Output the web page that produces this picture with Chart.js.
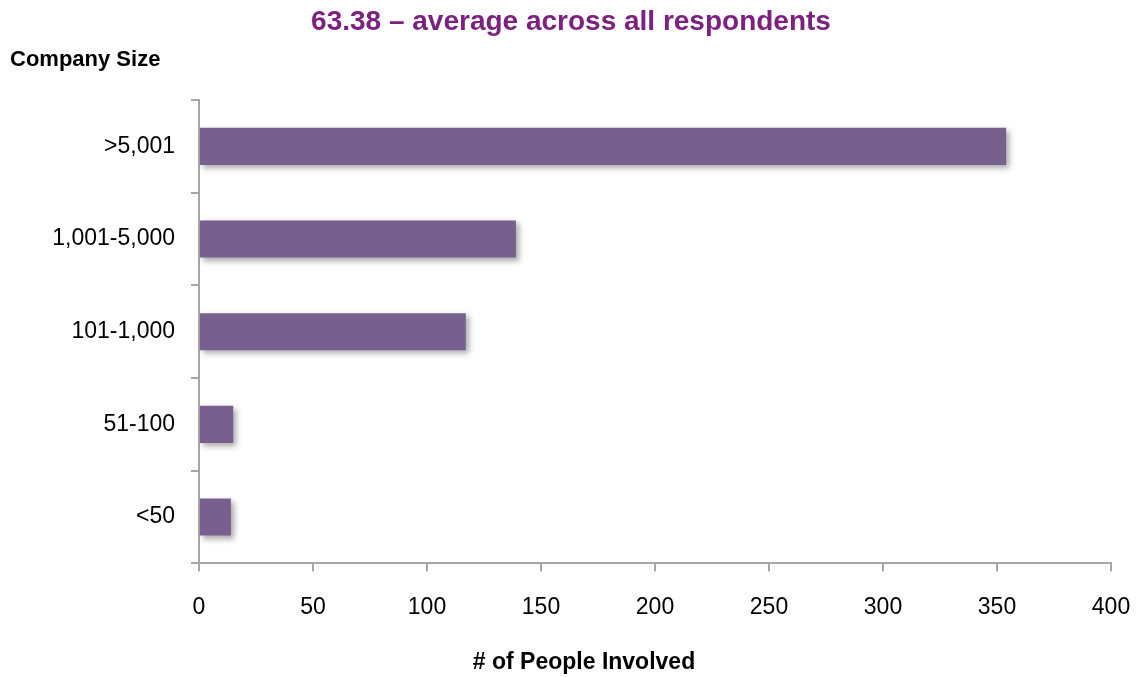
<!DOCTYPE html>
<html>
<head>
<meta charset="utf-8">
<script src="https://cdn.jsdelivr.net/npm/chart.js@4/dist/chart.umd.min.js"></script>
<style>
  html, body { margin: 0; padding: 0; background: #fff; }
  #wrap { width: 1136px; height: 677px; }
</style>
</head>
<body>
<div id="wrap"><canvas id="sizeChart"></canvas></div>
<script>
// Company size buckets, largest first
const companySizes = ['>5,001', '1,001-5,000', '101-1,000', '51-100', '<50'];
const peopleInvolved = [354, 139, 117, 15, 14];
const xTicks = [0, 50, 100, 150, 200, 250, 300, 350, 400];

const headline = '63.38 \u2013 average across all respondents';
const yTitle = 'Company Size';
const xTitle = '# of People Involved';

const FONT = "'Liberation Sans', Arial, sans-serif";
const AXIS_GREY = '#a6a6a6';

// soft drop shadow under the bars
const barShadow = {
  id: 'barShadow',
  beforeDatasetsDraw(chart) {
    const c = chart.ctx;
    c.save();
    c.shadowColor = 'rgba(0,0,0,0.35)';
    c.shadowBlur = 6;
    c.shadowOffsetX = 3;
    c.shadowOffsetY = 3;
  },
  afterDatasetsDraw(chart) {
    chart.ctx.restore();
  }
};

// x axis caption, centred under the whole figure
const xCaption = {
  id: 'xCaption',
  afterDraw(chart) {
    const c = chart.ctx;
    c.save();
    c.font = 'bold 23px ' + FONT;
    c.fillStyle = '#000';
    c.textAlign = 'center';
    c.textBaseline = 'middle';
    c.fillText(xTitle, 584, 663);
    c.restore();
  }
};

const ctx = document.getElementById('sizeChart').getContext('2d');
new Chart(ctx, {
  type: 'bar',
  data: {
    labels: companySizes,
    datasets: [{
      data: peopleInvolved,
      backgroundColor: '#77608e',
      borderWidth: 0,
      barPercentage: 0.8,
      categoryPercentage: 0.5
    }]
  },
  options: {
    indexAxis: 'y',
    responsive: true,
    maintainAspectRatio: false,
    animation: false,
    layout: { padding: { left: 10, right: 4, top: 5, bottom: 34 } },
    plugins: {
      legend: { display: false },
      tooltip: { enabled: false },
      title: {
        display: true,
        text: headline,
        color: '#7d2181',
        font: { family: FONT, size: 28, weight: 'bold' },
        padding: { top: 0, bottom: 8 }
      },
      subtitle: {
        display: true,
        text: yTitle,
        align: 'start',
        color: '#000',
        font: { family: FONT, size: 22, weight: 'bold' },
        padding: { top: 0, bottom: 27 }
      }
    },
    scales: {
      x: {
        min: 0,
        max: 400,
        afterBuildTicks(axis) {
          axis.ticks = xTicks.map(v => ({ value: v }));
        },
        afterFit(axis) {
          // leave room for the "400" label only
          axis.paddingRight = 25;
        },
        grid: { drawOnChartArea: false, drawTicks: true, tickLength: 8, color: AXIS_GREY, lineWidth: 2 },
        border: { color: AXIS_GREY, width: 2 },
        ticks: { color: '#000', font: { family: FONT, size: 23 }, padding: 22, maxRotation: 0 }
      },
      y: {
        afterFit(axis) {
          axis.width = 189;
        },
        grid: { drawOnChartArea: false, drawTicks: true, tickLength: 8, color: AXIS_GREY, lineWidth: 2, offset: true },
        border: { color: AXIS_GREY, width: 2 },
        ticks: { color: '#000', font: { family: FONT, size: 23 }, padding: 16 }
      }
    }
  },
  plugins: [barShadow, xCaption]
});
</script>
</body>
</html>
